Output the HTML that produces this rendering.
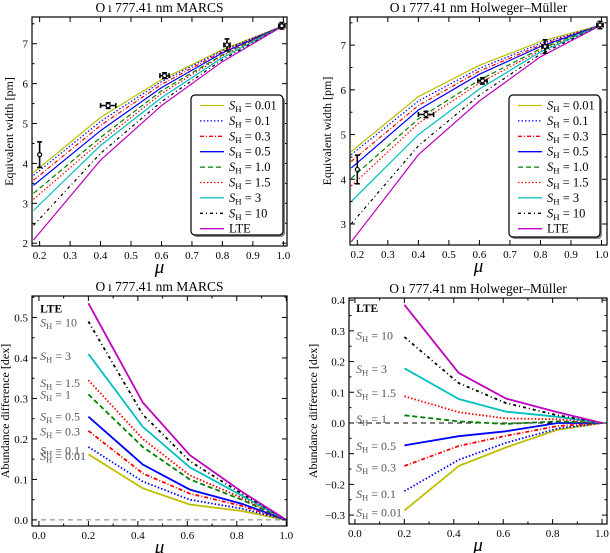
<!DOCTYPE html>
<html><head><meta charset="utf-8"><style>
html,body{margin:0;padding:0;background:#fff;}
svg{display:block;font-family:"Liberation Serif","DejaVu Serif",serif;}
</style></head><body>
<svg id="c" width="610" height="553" viewBox="0 0 610 553" xmlns="http://www.w3.org/2000/svg"></svg>
<script>
// ---------- data ----------
const seriesNames = ["0.01","0.1","0.3","0.5","1.0","1.5","3","10","LTE"];
const muModel = [0.18,0.4,0.6,0.8,1.0];
const ewMarcs = [
 [3.77,5.15,6.10,6.85,7.45],
 [3.70,5.05,6.05,6.83,7.45],
 [3.58,4.95,5.98,6.80,7.45],
 [3.45,4.82,5.90,6.77,7.45],
 [3.25,4.65,5.82,6.72,7.45],
 [3.10,4.55,5.75,6.70,7.45],
 [2.82,4.45,5.65,6.65,7.45],
 [2.45,4.25,5.55,6.60,7.45],
 [2.08,4.08,5.45,6.55,7.45]];
const ewHM = [
 [4.62,5.85,6.55,7.08,7.45],
 [4.55,5.75,6.48,7.04,7.45],
 [4.40,5.65,6.42,7.00,7.45],
 [4.25,5.55,6.35,6.97,7.45],
 [4.02,5.35,6.22,6.92,7.45],
 [3.85,5.25,6.15,6.88,7.45],
 [3.50,5.00,6.02,6.85,7.45],
 [3.00,4.75,5.88,6.80,7.45],
 [2.60,4.55,5.75,6.74,7.45]];
const muObs = [0.2,0.425,0.61,0.815,0.995];
const ewObs = [4.22,5.45,6.2,6.97,7.45];
const ewErr = [0.32,0.07,0.07,0.15,0.08];
const muErr = [0,0.025,0.015,0.01,0.01];
const muAbund = [0.2,0.42,0.61,0.82,1.0];
const abMarcs = [
 [0.162,0.078,0.038,0.022,0],
 [0.180,0.095,0.050,0.028,0],
 [0.220,0.115,0.065,0.035,0],
 [0.255,0.137,0.075,0.040,0],
 [0.310,0.180,0.100,0.050,0],
 [0.345,0.200,0.110,0.055,0],
 [0.410,0.230,0.130,0.060,0],
 [0.490,0.260,0.145,0.065,0],
 [0.535,0.290,0.160,0.070,0]];
const abHM = [
 [-0.285,-0.140,-0.080,-0.022,0],
 [-0.222,-0.120,-0.065,-0.018,0],
 [-0.140,-0.075,-0.042,-0.010,0],
 [-0.073,-0.043,-0.027,0.000,0],
 [0.025,0.005,-0.003,0.005,0],
 [0.087,0.035,0.015,0.012,0],
 [0.178,0.078,0.037,0.020,0],
 [0.280,0.130,0.065,0.025,0],
 [0.385,0.163,0.080,0.035,0]];
const labelYMarcs = [0.158,0.172,0.218,0.255,0.310,0.338,0.405,0.487,0.522];
const labelYHM = [-0.292,-0.232,-0.145,-0.075,0.013,0.097,0.175,0.285,0.375];
const xTicksTop = [0.2,0.3,0.4,0.5,0.6,0.7,0.8,0.9,1.0];
const yTicksTL = [2,3,4,5,6,7];
const yTicksTR = [3,4,5,6,7];
const xTicksBot = [0.0,0.2,0.4,0.6,0.8,1.0];
const yTicksBL = [0.0,0.1,0.2,0.3,0.4,0.5];
const yTicksBR = [-0.3,-0.2,-0.1,0.0,0.1,0.2,0.3,0.4];

const colors = ["#bfbf00","#0000ff","#ff0000","#0000ff","#008000","#ff0000","#00bfbf","#000000","#bf00bf"];
const dashes = ["","1.5,2","4,2,1,2","","5,3","1.5,2","","3,3,1,3",""];

const svg=document.getElementById('c');
const NS="http://www.w3.org/2000/svg";
function mk(tag,attrs,parent){const e=document.createElementNS(NS,tag);for(const k in attrs)e.setAttribute(k,attrs[k]);(parent||svg).appendChild(e);return e;}
function txt(s,x,y,attrs,parent){const t=mk('text',Object.assign({x:x,y:y,'font-size':11},attrs),parent);t.textContent=s;return t;}
function shLabel(g,v,x,y,size,fill){
  const t=mk('text',{x:x,y:y,'font-size':size,fill:fill},g);
  const a=document.createElementNS(NS,'tspan');a.setAttribute('font-style','italic');a.textContent='S';t.appendChild(a);
  const b=document.createElementNS(NS,'tspan');b.setAttribute('font-size',size*0.7);b.setAttribute('dy',size*0.2);b.textContent='H';t.appendChild(b);
  const c=document.createElementNS(NS,'tspan');c.setAttribute('dy',-size*0.2);c.textContent=' = '+v;t.appendChild(c);
  return t;
}

function panel(p){
  const g=mk('g',{});
  
  
  const X=v=>p.l+(v-p.x0)/(p.x1-p.x0)*(p.r-p.l);
  const Y=v=>p.b-(v-p.y0)/(p.y1-p.y0)*(p.b-p.t);
  const title=txt(p.title,(p.l+p.r)/2,p.t-5,{'text-anchor':'middle','font-size':13.5},g);
  
  
  if(p.zero){const z=mk('line',{x1:p.l,x2:p.r,y1:Y(0),y2:Y(0),stroke:p.zero,'stroke-width':1,'stroke-dasharray':'5,4'},g);
    }
  p.data.forEach((arr,i)=>{
    const d=arr.map((v,j)=>(j?'L':'M')+X(p.mu[j]).toFixed(1)+' '+Y(v).toFixed(1)).join(' ');
    const path=mk('path',{d:d,fill:'none',stroke:colors[i],'stroke-width':p.lw,'stroke-dasharray':dashes[i]},g);
    
    
  });
  if(p.obs){
    muObs.forEach((m,j)=>{
      const og=mk('g',{stroke:'#000','stroke-width':1.6,fill:'none'},g);
      
      
      const cx=X(m),cy=Y(ewObs[j]);
      const y1=Y(ewObs[j]+ewErr[j]),y2=Y(ewObs[j]-ewErr[j]);
      mk('line',{x1:cx,x2:cx,y1:y1,y2:y2},og);
      mk('line',{x1:cx-2.5,x2:cx+2.5,y1:y1,y2:y1},og);
      mk('line',{x1:cx-2.5,x2:cx+2.5,y1:y2,y2:y2},og);
      if(muErr[j]>0){const x1=X(m-muErr[j]),x2=X(m+muErr[j]);
        mk('line',{x1:x1,x2:x2,y1:cy,y2:cy},og);
        mk('line',{x1:x1,x2:x1,y1:cy-2.5,y2:cy+2.5},og);
        mk('line',{x1:x2,x2:x2,y1:cy-2.5,y2:cy+2.5},og);}
      mk('circle',{cx:cx,cy:cy,r:2,fill:'#fff','stroke-width':1.2},og);
    });
  }
  if(p.labels){
    p.labels.forEach((ly,i)=>{
      let t;
      if(i===8){t=txt('LTE',X(p.labx),Y(ly)+4,{'font-size':11.5,'font-weight':'bold',fill:'#000'},g);}
      else t=shLabel(g,seriesNames[i]==='1.0'?'1':seriesNames[i],X(p.labx),Y(ly)+4,12,'#555');
      
      
    });
  }
  const fr=mk('rect',{x:p.l,y:p.t,width:p.r-p.l,height:p.b-p.t,fill:'none',stroke:'#000','stroke-width':1.2},g);
  
  const xa=mk('g',{},g);
  p.xt.forEach(v=>{const x=X(v);
    mk('line',{x1:x,x2:x,y1:p.b,y2:p.b-5,stroke:'#000'},xa);
    mk('line',{x1:x,x2:x,y1:p.t,y2:p.t+5,stroke:'#000'},xa);
    txt(v.toFixed(1),x,p.b+13,{'text-anchor':'middle','font-size':11},xa);});
  p.xm.forEach(v=>{const x=X(v);
    mk('line',{x1:x,x2:x,y1:p.b,y2:p.b-2.5,stroke:'#000'},xa);
    mk('line',{x1:x,x2:x,y1:p.t,y2:p.t+2.5,stroke:'#000'},xa);});
  const ya=mk('g',{},g);
  p.yt.forEach(v=>{const y=Y(v);
    mk('line',{x1:p.l,x2:p.l+5,y1:y,y2:y,stroke:'#000'},ya);
    mk('line',{x1:p.r,x2:p.r-5,y1:y,y2:y,stroke:'#000'},ya);
    txt(v.toFixed(p.yd).replace('-','\u2212'),p.l-4,y+4,{'text-anchor':'end','font-size':11},ya);});
  p.ym.forEach(v=>{const y=Y(v);
    mk('line',{x1:p.l,x2:p.l+2.5,y1:y,y2:y,stroke:'#000'},ya);
    mk('line',{x1:p.r,x2:p.r-2.5,y1:y,y2:y,stroke:'#000'},ya);});
  const xl=txt('\u03bc',(p.l+p.r)/2,p.b+27,{'text-anchor':'middle','font-size':19,'font-style':'italic'},g);
  
  const yc=(p.t+p.b)/2;
  const yl=txt(p.ylabel,p.ylx,yc,{'text-anchor':'middle','font-size':12,transform:'rotate(-90 '+p.ylx+' '+yc+')'},g);
  
  if(p.leg){
    const lg=mk('g',{},g);
    const [lx,ly,lw,lh]=p.leg;
    mk('rect',{x:lx+2,y:ly+2,width:lw,height:lh,rx:4,fill:'#888'},lg);
    mk('rect',{x:lx,y:ly,width:lw,height:lh,rx:4,fill:'#fff',stroke:'#000','stroke-width':1.2},lg);
    seriesNames.forEach((s,i)=>{
      const e=mk('g',{},lg);
      const yy=ly+10.5+i*15.4;
      mk('line',{x1:lx+9,x2:lx+33,y1:yy,y2:yy,stroke:colors[i],'stroke-width':1.3,'stroke-dasharray':dashes[i]},e);
      if(i===8) txt('LTE',lx+38,yy+4,{'font-size':12.5},e);
      else shLabel(e,s,lx+38,yy+4,12.5,'#000');
    });
  }
}
const topXm=[];
panel({name:'panel-ew-marcs',title:'O\u2009\u0131 777.41 nm MARCS',l:32,r:287,t:17,b:246,x0:0.175,x1:1.012,y0:1.93,y1:7.67,
  mu:muModel,data:ewMarcs,lw:1.2,obs:true,xt:xTicksTop,xm:topXm,yt:yTicksTL,ym:[2.5,3.5,4.5,5.5,6.5,7.5],yd:0,
  ylabel:'Equivalent width [pm]',ylx:13,leg:[191,95,92,140]});
panel({name:'panel-ew-hm',title:'O\u2009\u0131 777.41 nm Holweger\u2013M\u00fcller',l:350,r:607,t:17,b:245,x0:0.176,x1:1.018,y0:2.53,y1:7.63,
  mu:muModel,data:ewHM,lw:1.2,obs:true,xt:xTicksTop,xm:topXm,yt:yTicksTR,ym:[3.5,4.5,5.5,6.5,7.5],yd:0,
  ylabel:'Equivalent width [pm]',ylx:331,leg:[509,95,91,142]});
panel({name:'panel-abund-marcs',title:'O\u2009\u0131 777.41 nm MARCS',l:32,r:287,t:296,b:526,x0:-0.028,x1:1.003,y0:-0.015,y1:0.553,
  mu:muAbund,data:abMarcs,lw:1.8,zero:'#777',labels:labelYMarcs,labx:0.005,xt:xTicksBot,xm:[0.1,0.3,0.5,0.7,0.9],yt:yTicksBL,ym:[0.05,0.15,0.25,0.35,0.45,0.55],yd:1,
  ylabel:'Abundance difference [dex]',ylx:9});
panel({name:'panel-abund-hm',title:'O\u2009\u0131 777.41 nm Holweger\u2013M\u00fcller',l:349,r:607,t:298,b:524,x0:-0.024,x1:1.02,y0:-0.329,y1:0.407,
  mu:muAbund,data:abHM,lw:1.8,zero:'#000',labels:labelYHM,labx:0.005,xt:xTicksBot,xm:[0.1,0.3,0.5,0.7,0.9],yt:yTicksBR,ym:[-0.25,-0.15,-0.05,0.05,0.15,0.25,0.35],yd:1,
  ylabel:'Abundance difference [dex]',ylx:317});
</script>
</body></html>
